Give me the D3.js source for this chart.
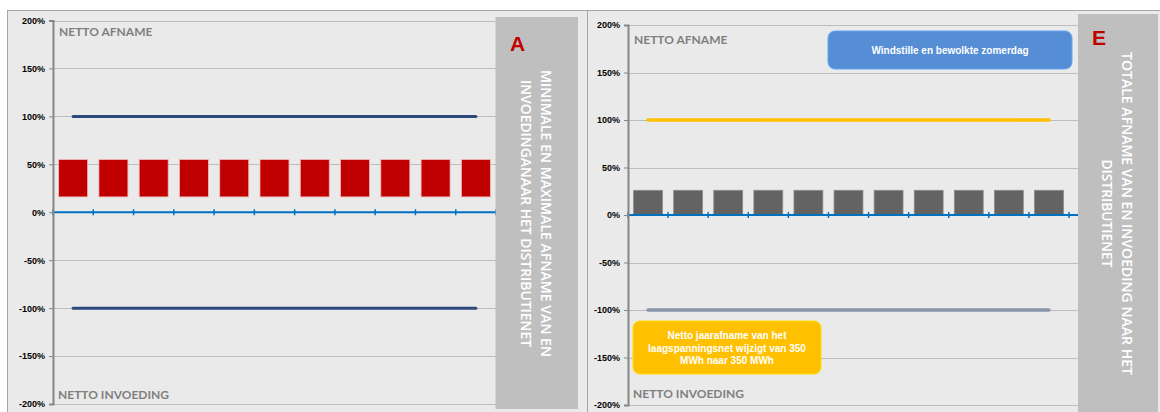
<!DOCTYPE html>
<html>
<head>
<meta charset="utf-8">
<script src="https://cdn.jsdelivr.net/npm/d3@7"></script>
<style>
  html, body { margin: 0; padding: 0; background: #fff; }
  svg { display: block; }
</style>
</head>
<body>
<svg id="chart" width="1160" height="412"></svg>
<script>
// two scenario panels side by side: A (min/max bands) and E (summer day)
const categories = ["1", "2", "3", "4", "5", "6", "7", "8", "9", "10", "11"];
const yTicks = [200, 150, 100, 50, 0, -50, -100, -150, -200];

// panel A: floating red bars (low..high) and the max / min limits
const barLowA  = [16, 16, 16, 16, 16, 16, 16, 16, 16, 16, 16];
const barHighA = [55, 55, 55, 55, 55, 55, 55, 55, 55, 55, 55];
const maxLineA = [100, 100, 100, 100, 100, 100, 100, 100, 100, 100, 100];
const minLineA = [-100, -100, -100, -100, -100, -100, -100, -100, -100, -100, -100];

// panel E: grey bars from zero, yellow max line, grey-blue min line
const barLowE  = [0, 0, 0, 0, 0, 0, 0, 0, 0, 0, 0];
const barHighE = [26, 26, 26, 26, 26, 26, 26, 26, 26, 26, 26];
const maxLineE = [100, 100, 100, 100, 100, 100, 100, 100, 100, 100, 100];
const minLineE = [-100, -100, -100, -100, -100, -100, -100, -100, -100, -100, -100];

const svg = d3.select("#chart");

// panel backgrounds
svg.append("rect").attr("x", 7.5).attr("y", 10.5).attr("width", 580).attr("height", 410)
  .attr("fill", "#eaeaea").attr("stroke", "#a6a6a6");
svg.append("rect").attr("x", 587.5).attr("y", 10.5).attr("width", 600).attr("height", 410)
  .attr("fill", "#eaeaea").attr("stroke", "#a6a6a6");

function drawPanel(p) {
  const g = svg.append("g");
  const x = d3.scaleBand().domain(categories).range([p.x0, p.x1]).padding(0);
  const y = d3.scaleLinear().domain([-200, 200]).range([p.yBottom, p.yTop]);
  const bw = x.bandwidth() * 0.72;

  // gridlines
  g.append("g").selectAll("line").data(yTicks).join("line")
    .attr("x1", p.x0).attr("x2", p.gridEnd)
    .attr("y1", (d) => Math.round(y(d)) + 0.5).attr("y2", (d) => Math.round(y(d)) + 0.5)
    .attr("stroke", "#bdbdbd").attr("stroke-width", 1);

  // bars
  g.append("g").selectAll("rect").data(categories).join("rect")
    .attr("x", (c) => x(c) + (x.bandwidth() - bw) / 2)
    .attr("width", bw)
    .attr("y", (c, i) => y(p.high[i]))
    .attr("height", (c, i) => y(p.low[i]) - y(p.high[i]))
    .attr("fill", p.barColor)
    .attr("stroke", p.barEdge).attr("stroke-width", 0.8);

  // limit lines
  const line = d3.line().x((d, i) => x(categories[i]) + x.bandwidth() / 2).y((d) => y(d));
  g.append("path").datum(p.maxLine).attr("d", line).attr("fill", "none")
    .attr("stroke", p.maxColor).attr("stroke-width", p.lineW).attr("stroke-linecap", "round");
  g.append("path").datum(p.minLine).attr("d", line).attr("fill", "none")
    .attr("stroke", p.minColor).attr("stroke-width", p.lineW).attr("stroke-linecap", "round");

  // zero axis with category ticks
  const y0 = y(0);
  g.append("line").attr("x1", p.x0).attr("x2", p.gridEnd).attr("y1", y0).attr("y2", y0)
    .attr("stroke", "#0070c0").attr("stroke-width", 2);
  const tickX = categories.map((c) => x(c)).concat([p.x1]);
  g.append("g").selectAll("line").data(tickX).join("line")
    .attr("x1", (d) => d).attr("x2", (d) => d)
    .attr("y1", y0 - 3).attr("y2", y0 + 3)
    .attr("stroke", "#0070c0").attr("stroke-width", 1.5);

  // y axis
  const ax = g.append("g").attr("transform", `translate(${p.x0},0)`)
    .call(d3.axisLeft(y).tickValues(yTicks).tickSize(4).tickPadding(4).tickFormat((d) => d + "%"));
  ax.select(".domain").attr("stroke", "#868686").attr("stroke-width", 2);
  ax.selectAll(".tick line").attr("stroke", "#868686");
  ax.selectAll(".tick text")
    .attr("font-family", "Liberation Sans, Arial, sans-serif")
    .attr("font-size", 9).attr("font-weight", "bold").attr("fill", "#000");

  // corner labels
  g.append("text").attr("x", p.x0 + 6).attr("y", p.topLabelY).text("NETTO AFNAME")
    .attr("font-family", "Lato, sans-serif").attr("font-weight", "bold")
    .attr("font-size", 12).attr("fill", "#7f7f7f");
  g.append("text").attr("x", p.x0 + 5).attr("y", p.bottomLabelY).text("NETTO INVOEDING")
    .attr("font-family", "Lato, sans-serif").attr("font-weight", "bold")
    .attr("font-size", 12).attr("fill", "#7f7f7f");

  // side box with letter and rotated title
  const b = p.box;
  g.append("rect").attr("x", b.x).attr("y", b.y).attr("width", b.w).attr("height", b.h)
    .attr("fill", "#bfbfbf");
  g.append("text").attr("x", b.letterX).attr("y", b.letterY).text(p.letter)
    .attr("font-family", "Liberation Sans, Arial, sans-serif").attr("font-weight", "bold")
    .attr("font-size", 21).attr("fill", "#c00000");
  const tg = g.append("g")
    .attr("transform", `translate(${b.x + b.w / 2 - 1},${p.titleCy}) rotate(90)`);
  tg.selectAll("text").data(p.title).join("text")
    .attr("x", 0).attr("y", (d, i) => (i - (p.title.length - 1) / 2) * 20)
    .attr("text-anchor", "middle").attr("dominant-baseline", "central")
    .attr("font-family", "Open Sans, sans-serif").attr("font-size", 13.5).attr("font-weight", 600)
    .attr("textLength", (d, i) => p.titleLen[i]).attr("lengthAdjust", "spacingAndGlyphs")
    .attr("fill", "#ffffff").text((d) => d);
}

drawPanel({
  x0: 53, x1: 496, gridEnd: 496, yTop: 20.5, yBottom: 404,
  low: barLowA, high: barHighA, barColor: "#c00000", barEdge: "#f2b8b8",
  maxLine: maxLineA, minLine: minLineA, maxColor: "#2e4a7d", minColor: "#2e4a7d", lineW: 3,
  topLabelY: 36, bottomLabelY: 399,
  box: { x: 495.5, y: 17, w: 82.5, h: 392, letterX: 510, letterY: 51 },
  letter: "A", titleCy: 213.5, titleLen: [287, 267],
  title: ["MINIMALE EN MAXIMALE AFNAME VAN EN", "INVOEDINGANAAR HET DISTRIBUTIENET"]
});

drawPanel({
  x0: 628, x1: 1069, gridEnd: 1078, yTop: 25, yBottom: 405,
  low: barLowE, high: barHighE, barColor: "#636363", barEdge: "#8a8a8a",
  maxLine: maxLineE, minLine: minLineE, maxColor: "#ffc000", minColor: "#8796a8", lineW: 3.5,
  topLabelY: 44, bottomLabelY: 398,
  box: { x: 1078, y: 14, w: 80, h: 398, letterX: 1092, letterY: 45 },
  letter: "E", titleCy: 213.5, titleLen: [323, 108],
  title: ["TOTALE AFNAME VAN EN INVOEDING NAAR HET", "DISTRIBUTIENET"]
});

// callouts in panel E
function callout(bx, by, w, h, fill, lines, lineH, firstY) {
  svg.append("rect").attr("x", bx).attr("y", by).attr("width", w).attr("height", h)
    .attr("rx", 7).attr("fill", fill).attr("stroke", d3.color(fill).brighter(0.4)).attr("stroke-width", 1);
  svg.append("g").selectAll("text").data(lines).join("text")
    .attr("x", bx + w / 2).attr("y", (d, i) => firstY + i * lineH)
    .attr("text-anchor", "middle")
    .attr("font-family", "Liberation Sans, Arial, sans-serif").attr("font-weight", "bold")
    .attr("font-size", 10).attr("fill", "#ffffff").text((d) => d);
}
callout(828, 31, 244, 38, "#558ed5", ["Windstille en bewolkte zomerdag"], 12, 54);
callout(633, 321, 188, 53, "#ffc000",
  ["Netto jaarafname van het", "laagspanningsnet wijzigt van 350", "MWh naar 350 MWh"], 12.5, 339);
</script>
</body>
</html>
